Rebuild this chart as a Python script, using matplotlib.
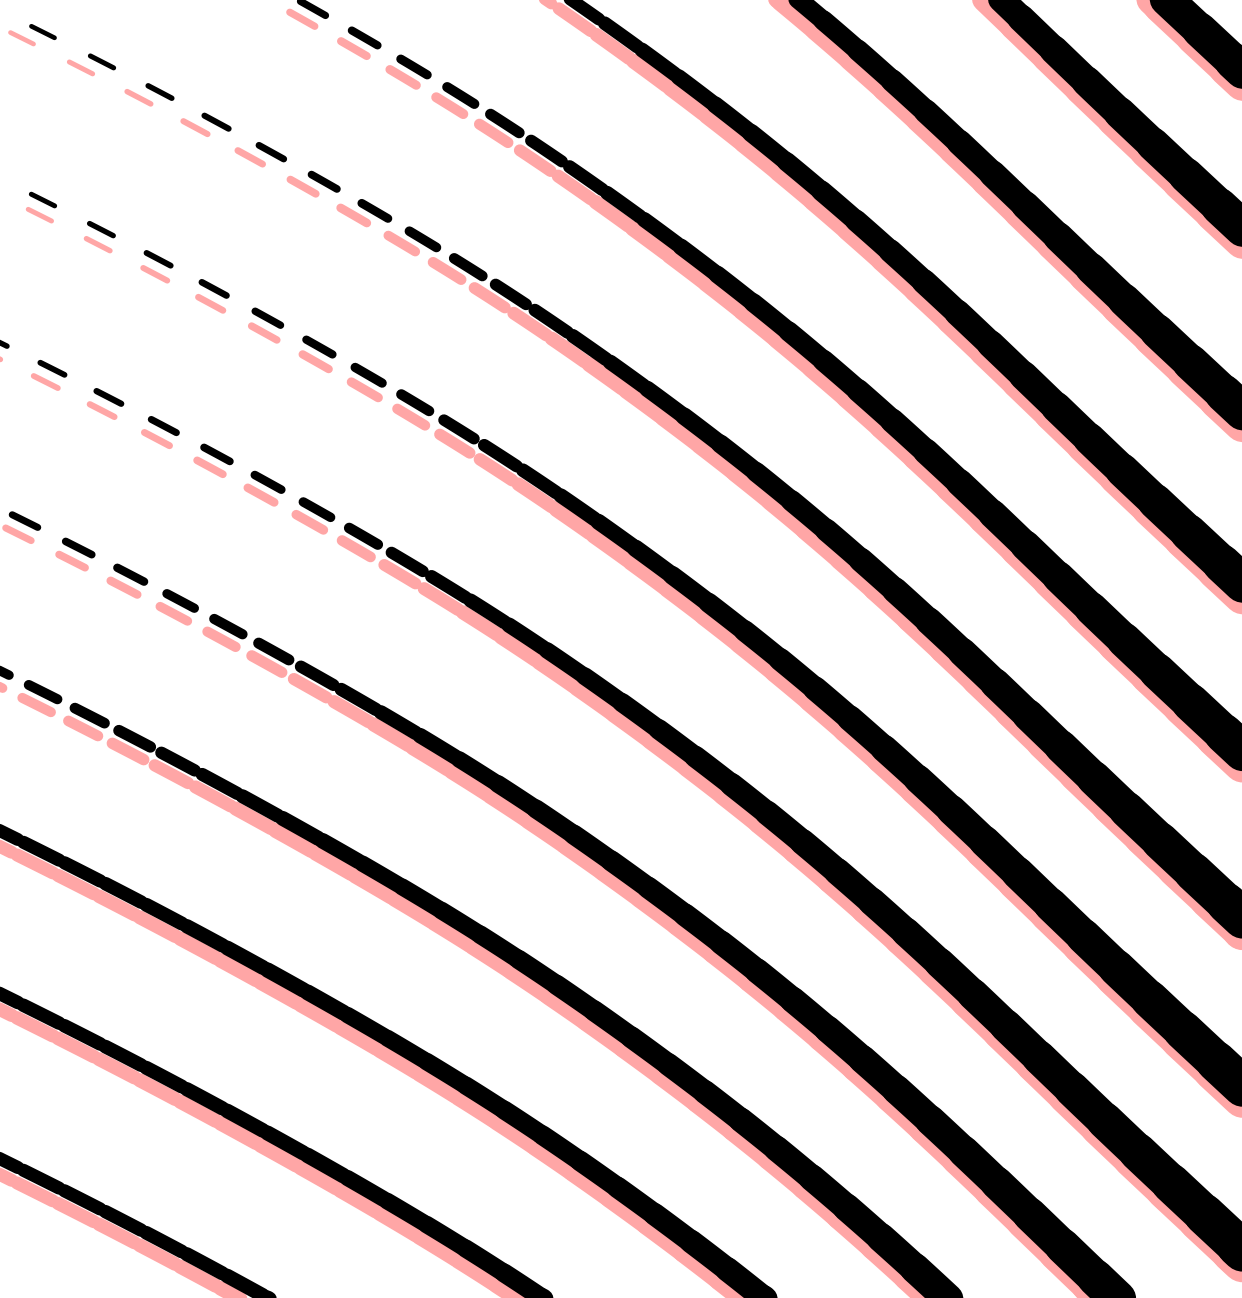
import numpy as np
import matplotlib
matplotlib.use("Agg")
import matplotlib.pyplot as plt
from matplotlib.collections import LineCollection

W_PX, H_PX = 1242, 1298
DPI = 100

# shared shape of every stroke: rise (px, downwards) above its height at x = 0
curve_x = [-800, -150, 0, 43, 104, 160, 217, 272, 325, 375, 421, 467, 510, 538,
           764, 952, 1113, 1242, 1420, 2100]
curve_rise = [-384, -72, 0, 21, 52, 81, 111, 142, 171, 200, 226, 254, 281, 298,
              463, 628, 790, 906, 1075, 1720]

# height where each stroke crosses x = 0 (the first five come in through the top edge)
line_y0 = [-838, -680, -497, -325, -157, 10, 178, 342, 508, 670, 830, 993, 1158]
# x of one dash centre per stroke (sets the dash phase)
dash_anchor_x = [1185, 1005, 805, 583, 313, 43, 43, -5, 25, -5, 0, 0, 0]
# how far (px, along the stroke) the pink dashes sit ahead of the black ones
shadow_lag = [0, 0, 0, 0, -4, -16, 4, 0, 0, 0, 0, 0, 0]

# stroke width (px) down the left edge and down the right edge
left_y = [0, 180, 345, 510, 670, 835, 1000, 1170, 1298]
left_w = [4.6, 4.8, 5.5, 6.8, 9.5, 13, 13.5, 13, 13]
right_y = [0, 1298]
right_w = [36, 42]

# dash period and dash length (px, caps not included) against stroke width
dash_w = [4, 10.5, 13, 50]
dash_period = [68, 51, 46, 46]
dash_on = [25, 32.5, 40, 60]

# pink shadow: sideways offset (px) against stroke width
shadow_w = [4, 15, 30, 47]
shadow_off = [15, 14, 10, 7]

BLACK = "#000000"
PINK = "#ffa6a6"


def stroke_width(x, y):
    a = np.interp(y, left_y, left_w)
    b = np.interp(y, right_y, right_w)
    t = np.clip(np.asarray(x) / W_PX, 0.0, None)
    return a + (b - a) * t ** 1.8


def shape_curve():
    """Dense, smoothed version of the curve_x / curve_rise table."""
    xs = np.arange(curve_x[0], curve_x[-1], 0.5)
    rise = np.interp(xs, curve_x, curve_rise)
    k = np.arange(-540, 541) * 0.5
    kern = np.exp(-0.5 * (k / 90.0) ** 2)
    kern /= kern.sum()
    rise = np.convolve(rise, kern, mode="same")
    keep = (xs > -300) & (xs < 1600)
    return xs[keep], rise[keep]


def build_stroke(y0, anchor_x, lag, base_x, base_rise):
    xs = base_x
    ys = y0 + base_rise
    keep = (ys > -400) & (ys < 1700)
    xs, ys = xs[keep], ys[keep]
    s = np.concatenate([[0.0], np.cumsum(np.hypot(np.diff(xs), np.diff(ys)))])
    tx = np.gradient(xs, s)
    ty = np.gradient(ys, s)

    def at(c):
        return np.interp(c, s, xs), np.interp(c, s, ys)

    def width_at(c):
        return float(stroke_width(*at(c)))

    s_anchor = np.interp(anchor_x, xs, s)
    centres = [s_anchor]
    c = s_anchor
    while c < s[-1]:
        c += np.interp(width_at(c), dash_w, dash_period)
        centres.append(c)
    c = s_anchor
    while c > s[0]:
        c -= np.interp(width_at(c), dash_w, dash_period)
        centres.append(c)

    black, pink, widths = [], [], []
    for c in sorted(centres):
        cx, cy = at(c)
        if cx < -90 or cx > W_PX + 90 or cy < -90 or cy > H_PX + 90:
            continue
        w = width_at(c)
        on = np.interp(w, dash_w, dash_on)
        ss = np.linspace(c - on / 2, c + on / 2, 9)
        px, py = at(ss)
        black.append(np.column_stack([px, py]))

        sp = ss + lag
        qx, qy = at(sp)
        nx = -np.interp(sp, s, ty)
        ny = np.interp(sp, s, tx)
        d = np.interp(w, shadow_w, shadow_off)
        pink.append(np.column_stack([qx + d * nx, qy + d * ny]))
        widths.append(w * 72.0 / DPI)
    return black, pink, widths


fig = plt.figure(figsize=(W_PX / DPI, H_PX / DPI), dpi=DPI)
ax = fig.add_axes([0, 0, 1, 1])
ax.set_xlim(0, W_PX)
ax.set_ylim(H_PX, 0)
ax.axis("off")

base_x, base_rise = shape_curve()

for y0, anchor, lag in zip(line_y0, dash_anchor_x, shadow_lag):
    black, pink, widths = build_stroke(y0, anchor, lag, base_x, base_rise)
    ax.add_collection(LineCollection(pink, linewidths=widths, colors=PINK,
                                     capstyle="round", joinstyle="round", zorder=1))
    ax.add_collection(LineCollection(black, linewidths=widths, colors=BLACK,
                                     capstyle="round", joinstyle="round", zorder=2))

fig.savefig("out.png", dpi=DPI, facecolor="white")
